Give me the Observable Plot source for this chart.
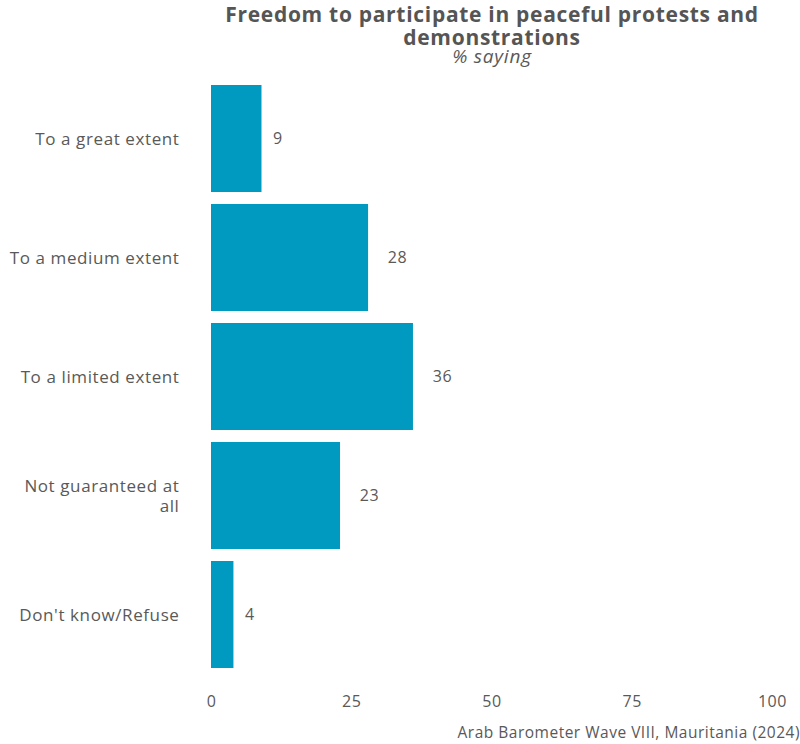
<!DOCTYPE html>
<html>
<head>
<meta charset="utf-8">
<script src="https://cdn.jsdelivr.net/npm/d3@7"></script>
<script src="https://cdn.jsdelivr.net/npm/@observablehq/plot@0.6"></script>
<style>
  body { margin: 0; background: #fff; font-family: "Open Sans", sans-serif; }
  #wrap { width: 800px; height: 744px; position: relative; }
  #head { position: relative; height: 70px; }
  .tl { position: absolute; left: 142px; width: 700px; text-align: center; font-weight: 700; font-size: 21px; letter-spacing: 0.7px; line-height: 22px; height: 22px; color: #555; }
  #t1 { top: 3px; }
  #t2 { top: 26px; }
  #sub { position: absolute; left: 192px; width: 600px; top: 46px; text-align: center; font-style: italic; font-size: 19px; letter-spacing: 0.8px; line-height: 20px; height: 20px; color: #595959; }
  #cap { position: absolute; right: 0px; top: 721px; font-size: 15.5px; letter-spacing: 0.5px; color: #595959; }
  #chart svg text { letter-spacing: 0.6px; }
</style>
</head>
<body>
<div id="wrap">
  <div id="head">
    <div class="tl" id="t1">Freedom to participate in peaceful protests and</div>
    <div class="tl" id="t2">demonstrations</div>
    <div id="sub">% saying</div>
  </div>
  <div id="chart"></div>
  <div id="cap">Arab Barometer Wave VIII, Mauritania (2024)</div>
</div>
<script>
const categories = ["To a great extent", "To a medium extent", "To a limited extent", "Not guaranteed at all", "Don't know/Refuse"];
const values = [9, 28, 36, 23, 4];
const xTicks = [0, 25, 50, 75, 100];

const data = categories.map((c, i) => ({category: c, value: values[i]}));
const wrapLabel = d => d === "Not guaranteed at all" ? "Not guaranteed at\nall" : d;

const chart = Plot.plot({
  width: 800,
  height: 648,
  marginTop: 8,
  marginBottom: 43,
  marginLeft: 211,
  marginRight: 28,
  style: {fontFamily: "Open Sans, sans-serif", fontSize: "16px", color: "#595959", background: "#fff"},
  x: {domain: [0, 100], ticks: xTicks, label: null},
  y: {domain: categories, label: null, paddingInner: 0.1, paddingOuter: 0.05},
  marks: [
    Plot.barX(data, {x: "value", y: "category", fill: "#0099c0"}),
    Plot.text(data.filter(d => d.value < 10), {x: "value", y: "category", text: d => String(d.value), dx: 16, textAnchor: "middle", fill: "#595959", fontSize: 16}),
    Plot.text(data.filter(d => d.value >= 10), {x: "value", y: "category", text: d => String(d.value), dx: 29, textAnchor: "middle", fill: "#595959", fontSize: 16}),
    Plot.axisX({ticks: xTicks, tickSize: 0, tickPadding: 20, fontSize: 16, fill: "#595959", label: null}),
    Plot.axisY({tickSize: 0, tickPadding: 32, tickFormat: wrapLabel, fontSize: 17, lineHeight: 1.15, fill: "#595959", label: null})
  ]
});
document.getElementById("chart").appendChild(chart);
</script>
</body>
</html>
